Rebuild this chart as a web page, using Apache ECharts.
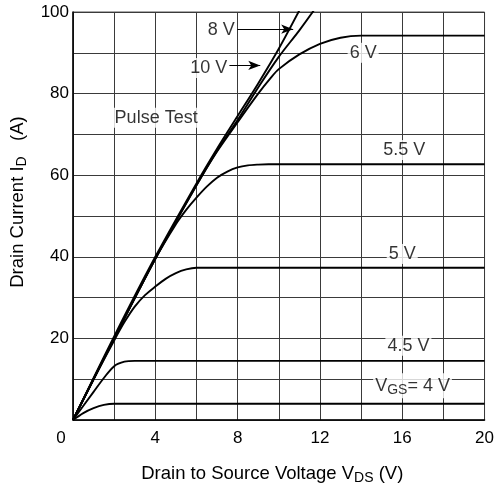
<!DOCTYPE html>
<html>
<head>
<meta charset="utf-8">
<script src="https://cdn.jsdelivr.net/npm/echarts@6/dist/echarts.min.js"></script>
<style>
html,body{margin:0;padding:0;background:#fff;}
#chart{width:497px;height:494px;}
</style>
</head>
<body>
<div id="chart"></div>
<script>
// Data: drain current ID (A) vs drain-source voltage VDS (V) for each VGS
const curve4V   = [[0,0],[0.5,1.7],[1,2.9],[1.5,3.7],[2,4.0],[20,4.0]];
const curve4_5V = [[0,0],[1,6.9],[1.5,10.3],[2,13.2],[2.5,14.3],[3,14.5],[20,14.5]];
const curve5V   = [[0,0],[1,10],[2,19.5],[2.5,24],[3,27.8],[3.5,30.6],[4,32.7],[4.5,34.6],[5,36],[5.5,36.9],[6,37.3],[20,37.3]];
const curve5_5V = [[0,0],[2,20],[4,39.5],[5,48],[5.5,51.5],[6,54.5],[6.5,57.2],[7,59.4],[7.5,60.9],[8,61.9],[8.5,62.4],[9,62.6],[9.5,62.7],[20,62.7]];
const curve6V   = [[0,0],[2,20],[4,39.5],[6,57.5],[7,65.8],[8,73],[9,80],[9.6,83.8],[10,86],[11,89.6],[12,92.2],[13,93.7],[14,94.2],[20,94.2]];
const curve8V   = [[0,0],[2,20],[4,39.5],[6,57.5],[7,66],[8,73.5],[9,81.5],[10,89],[11,95.5],[12,102.5]];
const curve10V  = [[0,0],[2,20.5],[4,40],[6,58],[7,66.5],[8,74.5],[9,82.5],[10,91],[11,100.4]];

// Tick values (the origin "0" is shared by both axes)
const xTicks = [0, 4, 8, 12, 16, 20];
const yTicks = [20, 40, 60, 80, 100];

// Annotation labels: [VDS, ID, text]
const annotations = [
  [4.04, 74.1, 'Pulse Test'],
  [7.2, 95.5, '8 V'],
  [6.6, 86.3, '10 V'],
  [14.1, 90, '6 V'],
  [16.1, 66.2, '5.5 V'],
  [16.0, 40.7, '5 V'],
  [16.3, 18.2, '4.5 V'],
  [16.5, 8.4, '{n|V}{sub|GS}{n|= 4 V}']
];
// Arrows: [[fromVDS, ID], [toVDS, ID]]
const arrow8V  = [[7.99, 95.8], [10.7, 95.8]];
const arrow10V = [[7.6, 86.9], [9.1, 86.9]];

const FONT = 'Liberation Sans, Arial, sans-serif';
const chart = echarts.init(document.getElementById('chart'), null, {renderer: 'canvas'});

function curveSeries(name, data) {
  return {
    name: name, type: 'line', data: data, showSymbol: false, symbol: 'none',
    smooth: 0.3,
    lineStyle: {color: '#000', width: 1.9}, clip: true, z: 3, silent: true
  };
}

const option = {
  animation: false,
  backgroundColor: '#fff',
  grid: {left: 72, right: 12, top: 12, bottom: 74, show: true, borderColor: '#555', borderWidth: 1},
  xAxis: {
    type: 'value', min: 0, max: 20, interval: 2,
    axisLine: {show: true, onZero: false, lineStyle: {color: '#000', width: 1.5}},
    axisTick: {show: false},
    splitLine: {show: true, lineStyle: {color: '#3a3a3a', width: 1}},
    axisLabel: {
      margin: 10, color: '#000', fontFamily: FONT, fontSize: 17,
      formatter: function (v) {
        if (xTicks.indexOf(v) < 0) return '';
        return v === 0 ? '{z|0}' : String(v);
      },
      rich: {z: {fontFamily: FONT, fontSize: 17, color: '#000', padding: [0, 24, 0, 0]}}
    },
    name: '{n|Drain to Source Voltage V}{sub|DS}{n| (V)}',
    nameLocation: 'middle', nameGap: 42,
    nameTextStyle: {
      padding: [0, 13, 0, 0],
      rich: {
        n: {fontFamily: FONT, fontSize: 18.5, color: '#000'},
        sub: {fontFamily: FONT, fontSize: 14, color: '#000', padding: [9, 0, 0, 0]}
      }
    }
  },
  yAxis: {
    type: 'value', min: 0, max: 100, interval: 10,
    axisLine: {show: true, onZero: false, lineStyle: {color: '#000', width: 1.5}},
    axisTick: {show: false},
    splitLine: {show: true, lineStyle: {color: '#3a3a3a', width: 1}},
    axisLabel: {
      margin: 4, color: '#000', fontFamily: FONT, fontSize: 17,
      formatter: function (v) {
        return yTicks.indexOf(v) < 0 ? '' : String(v);
      }
    },
    name: '{n|Drain Current I}{sub|D}{n|   (A)}',
    nameLocation: 'middle', nameGap: 44,
    nameTextStyle: {
      padding: [0, 0, 0, 28],
      rich: {
        n: {fontFamily: FONT, fontSize: 18.5, color: '#000'},
        sub: {fontFamily: FONT, fontSize: 14, color: '#000', padding: [9, 0, 0, 0]}
      }
    }
  },
  series: [
    curveSeries('4 V', curve4V),
    curveSeries('4.5 V', curve4_5V),
    curveSeries('5 V', curve5V),
    curveSeries('5.5 V', curve5_5V),
    curveSeries('6 V', curve6V),
    curveSeries('8 V', curve8V),
    Object.assign(curveSeries('10 V', curve10V), {
      markLine: {
        silent: true, symbol: ['none', 'arrow'], symbolSize: [7, 12],
        lineStyle: {color: '#000', width: 1, type: 'solid'},
        label: {show: false},
        data: [
          [{coord: arrow8V[0]}, {coord: arrow8V[1]}],
          [{coord: arrow10V[0]}, {coord: arrow10V[1]}]
        ]
      }
    }),
    {
      type: 'scatter', symbolSize: 0, silent: true, z: 4,
      data: annotations.map(a => [a[0], a[1]]),
      label: {
        show: true, position: 'inside',
        formatter: function (p) { return annotations[p.dataIndex][2]; },
        color: '#000', fontFamily: FONT, fontSize: 18,
        backgroundColor: '#fff', padding: [1, 2, 1, 2],
        rich: {
          n: {fontFamily: FONT, fontSize: 18, color: '#000'},
          sub: {fontFamily: FONT, fontSize: 14, color: '#000', padding: [9, 0, 0, 0]}
        }
      }
    }
  ]
};
chart.setOption(option);
</script>
</body>
</html>
